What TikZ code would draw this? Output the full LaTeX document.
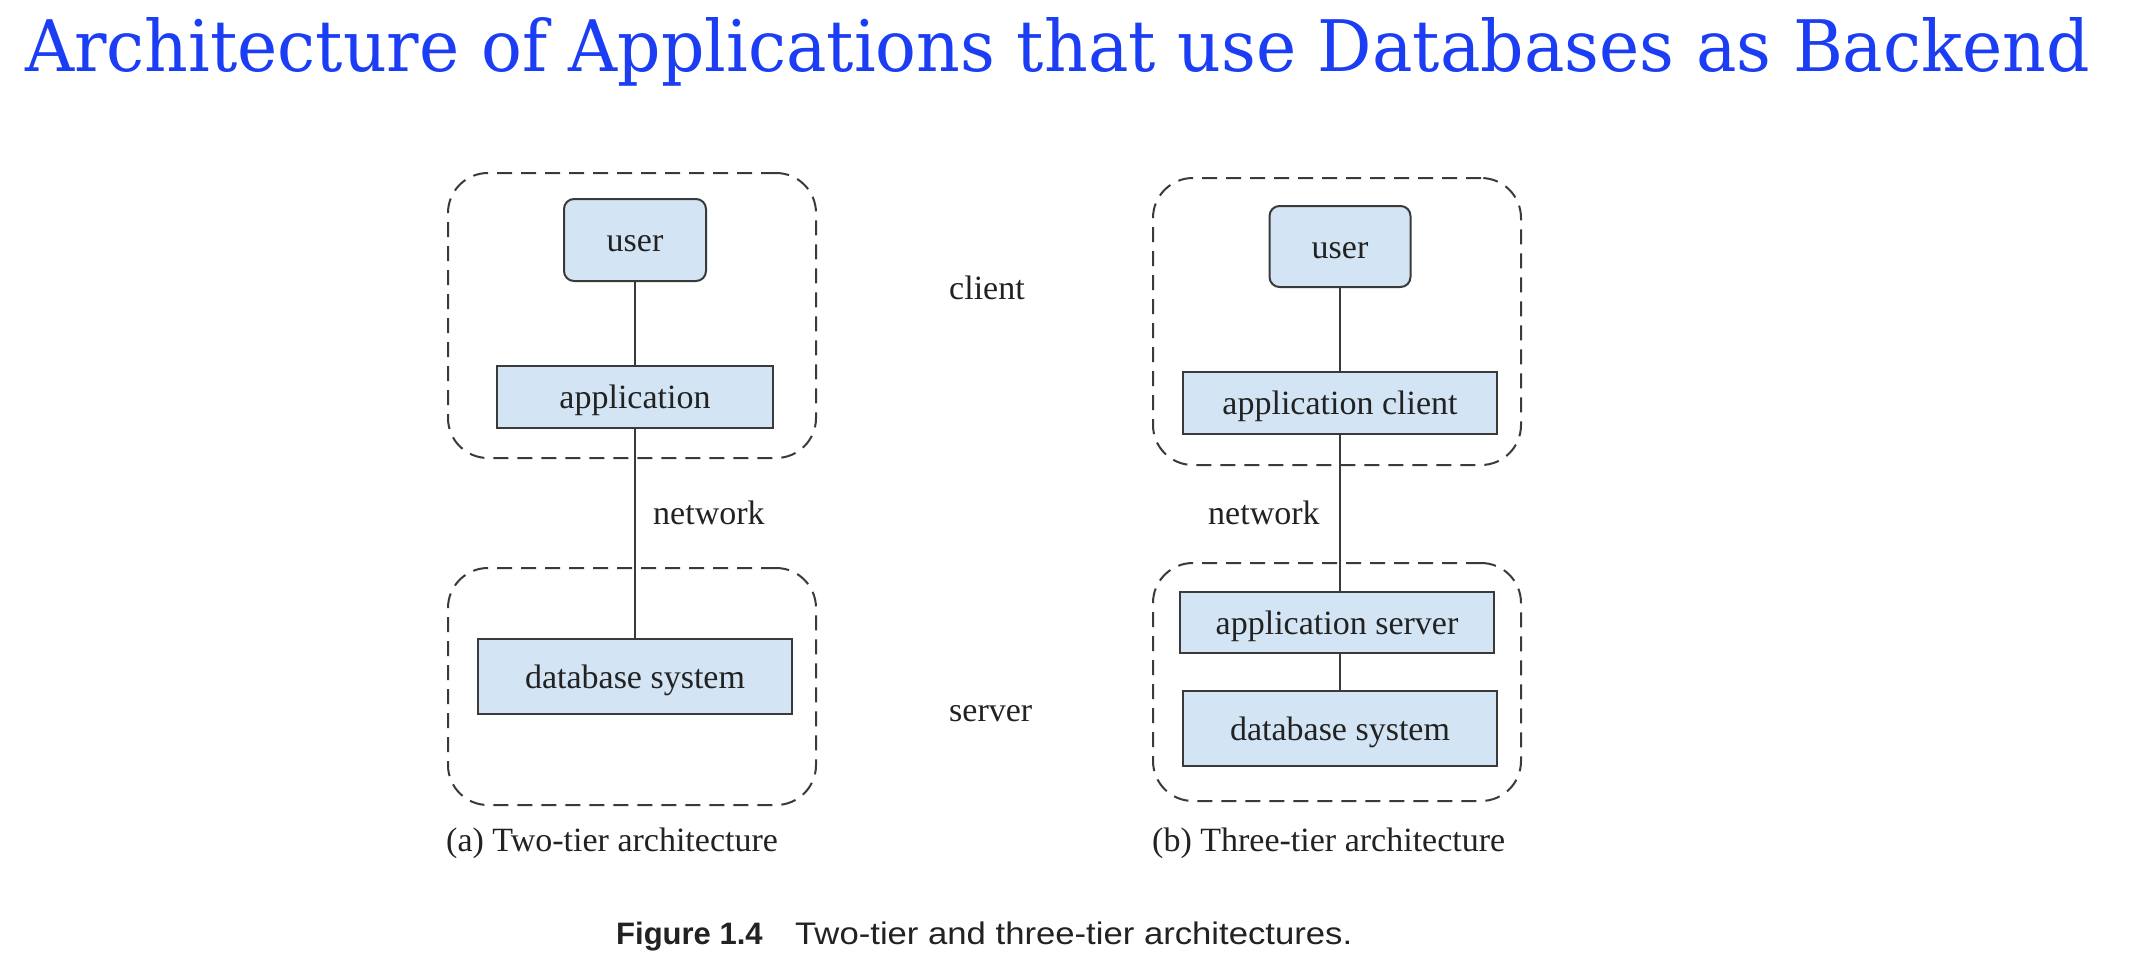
\documentclass[tikz,border=0pt]{standalone}
\usepackage{fontspec}
\setmainfont{Liberation Serif}
\newfontfamily\titlefont{DejaVu Serif}
\newfontfamily\capfont{Liberation Sans}
\definecolor{titleblue}{HTML}{1B3DF4}
\definecolor{boxfill}{HTML}{D3E5F4}
\definecolor{boxline}{HTML}{3A3A3A}
\definecolor{txt}{HTML}{222222}
\begin{document}
\begin{tikzpicture}[x=1pt,y=-1pt,
  tier/.style={draw=boxline, line width=2pt, dash pattern=on 15pt off 9pt, rounded corners=40pt, inner sep=0pt},
  comp/.style={draw=boxline, line width=2pt, fill=boxfill, inner sep=0pt, text height=23pt, text depth=0pt, font=\fontsize{34}{40}\selectfont, text=txt},
  link/.style={draw=boxline, line width=2pt},
  lbl/.style={font=\fontsize{34}{40}\selectfont, text=txt, inner sep=0pt, anchor=base west}]

\path[use as bounding box, fill=white] (0,0) rectangle (2146,974);

% title
\node[anchor=base west, inner sep=0pt, text=titleblue] (title) at (25,71)
  {\resizebox{2065pt}{54pt}{\titlefont\fontsize{60}{70}\selectfont Architecture of Applications that use Databases as Backend}};

% tier frames
\node[tier, minimum width=368pt, minimum height=285pt] (client1) at (632,315.5) {};
\node[tier, minimum width=368pt, minimum height=237pt] (server1) at (632,686.5) {};
\node[tier, minimum width=368pt, minimum height=287pt] (client2) at (1337,321.5) {};
\node[tier, minimum width=368pt, minimum height=238pt] (server2) at (1337,682) {};

% components
\node[comp, rounded corners=10pt, minimum width=142pt, minimum height=82pt] (user1) at (635,240) {user};
\node[comp, minimum width=276pt, minimum height=62pt] (app1) at (635,397) {application};
\node[comp, minimum width=314pt, minimum height=75pt] (db1) at (635,676.5) {database system};

\node[comp, rounded corners=10pt, minimum width=141pt, minimum height=81pt] (user2) at (1340,246.5) {user};
\node[comp, minimum width=314pt, minimum height=62pt] (appc) at (1340,403) {application client};
\node[comp, minimum width=314pt, minimum height=61pt] (apps) at (1337,622.5) {application server};
\node[comp, minimum width=314pt, minimum height=75pt] (db2) at (1340,728.5) {database system};

% connectors
\draw[link] (user1.south) -- (app1.north);
\draw[link] (app1.south) -- (db1.north);
\draw[link] (user2.south) -- (appc.north);
\draw[link] (appc.south) -- (appc.south |- apps.north);
\draw[link] (apps.south -| appc) -- (db2.north);

% labels
\node[lbl] (client) at (949,299) {client};
\node[lbl] (server) at (949,721) {server};
\node[lbl] (net1) at (653,524) {network};
\node[lbl] (net2) at (1208,524) {network};
\node[lbl] (capa) at (446,851) {(a) Two-tier architecture};
\node[lbl] (capb) at (1152,851) {(b) Three-tier architecture};

% figure caption
\node[anchor=base west, inner sep=0pt, text=txt, font=\capfont\bfseries\fontsize{31}{36}\selectfont] (figno) at (616,944) {Figure 1.4};
\node[anchor=base west, inner sep=0pt, text=txt] (figtxt) at (795,944)
  {\resizebox{557pt}{22.6pt}{\capfont\fontsize{31}{36}\selectfont Two-tier and three-tier architectures.}};
\end{tikzpicture}
\end{document}
